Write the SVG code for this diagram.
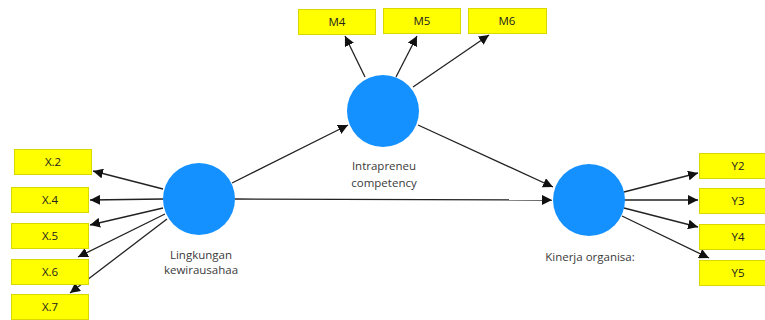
<svg xmlns="http://www.w3.org/2000/svg" width="765" height="320" viewBox="0 0 765 320">
<defs>
<marker id="ah" viewBox="0 0 10 10" refX="10" refY="5" markerWidth="10" markerHeight="10" markerUnits="userSpaceOnUse" orient="auto">
<path d="M0,0 L10,5 L0,10 z" fill="#111"/>
</marker>
<style>
.box{fill:#ffff00;stroke:#d8d800;stroke-width:1}
.lv{fill:#1591ff}
.bt{font-family:"Open Sans","DejaVu Sans",sans-serif;font-size:11.5px;fill:#222;text-anchor:middle}
.lt{font-family:"Open Sans","DejaVu Sans",sans-serif;font-size:11.5px;fill:#3a3a3a;text-anchor:middle}
.c{stroke:#222;stroke-width:1.3;fill:none;marker-end:url(#ah)}
</style>
</defs>
<rect width="765" height="320" fill="#fff"/>
<g id="connectors">
<line class="c" x1="163" y1="189" x2="93" y2="171"/>
<line class="c" x1="163" y1="199" x2="90" y2="200"/>
<line class="c" x1="163" y1="208" x2="90" y2="225"/>
<line class="c" x1="165" y1="214" x2="78" y2="257"/>
<line class="c" x1="167" y1="219" x2="70" y2="293"/>
<line class="c" x1="232" y1="183" x2="348" y2="125"/>
<line class="c" x1="235" y1="199" x2="552" y2="200"/>
<line class="c" x1="418" y1="125" x2="553" y2="187"/>
<line class="c" x1="365" y1="77" x2="345" y2="36"/>
<line class="c" x1="396" y1="77" x2="417" y2="36"/>
<line class="c" x1="413" y1="87" x2="489" y2="35"/>
<line class="c" x1="624" y1="192" x2="698" y2="173"/>
<line class="c" x1="624" y1="200" x2="698" y2="200"/>
<line class="c" x1="624" y1="208" x2="698" y2="227"/>
<line class="c" x1="622" y1="216" x2="709" y2="258"/>
</g>
<g id="lingkungan">
<circle class="lv" cx="199" cy="199" r="36"/>
<text class="lt" x="201" y="259">Lingkungan</text>
<text class="lt" x="201" y="274">kewirausahaa</text>
</g>
<g id="intrapreneu">
<circle class="lv" cx="383" cy="111" r="36"/>
<text class="lt" x="384" y="170">Intrapreneu</text>
<text class="lt" x="384" y="187">competency</text>
</g>
<g id="kinerja">
<circle class="lv" cx="589" cy="200" r="36"/>
<text class="lt" x="590" y="261">Kinerja organisa:</text>
</g>
<g id="X2"><rect class="box" x="14.5" y="149.5" width="77" height="25"/><text class="bt" x="53" y="166">X.2</text></g>
<g id="X4"><rect class="box" x="11.5" y="187.5" width="77" height="25"/><text class="bt" x="50" y="204">X.4</text></g>
<g id="X5"><rect class="box" x="11.5" y="223.5" width="77" height="25"/><text class="bt" x="50" y="240">X.5</text></g>
<g id="X6"><rect class="box" x="11.5" y="259.5" width="77" height="25"/><text class="bt" x="50" y="276">X.6</text></g>
<g id="X7"><rect class="box" x="11.5" y="294.5" width="77" height="25"/><text class="bt" x="50" y="311">X.7</text></g>
<g id="M4"><rect class="box" x="298.5" y="9.5" width="77" height="25"/><text class="bt" x="337" y="26">M4</text></g>
<g id="M5"><rect class="box" x="383.5" y="8.5" width="77" height="25"/><text class="bt" x="422" y="25">M5</text></g>
<g id="M6"><rect class="box" x="468.5" y="8.5" width="78" height="25"/><text class="bt" x="507" y="25">M6</text></g>
<g id="Y2"><rect class="box" x="699.5" y="153.5" width="78" height="25"/><text class="bt" x="738" y="170">Y2</text></g>
<g id="Y3"><rect class="box" x="699.5" y="188.5" width="78" height="25"/><text class="bt" x="738" y="205">Y3</text></g>
<g id="Y4"><rect class="box" x="699.5" y="224.5" width="78" height="25"/><text class="bt" x="738" y="241">Y4</text></g>
<g id="Y5"><rect class="box" x="699.5" y="260.5" width="78" height="25"/><text class="bt" x="738" y="277">Y5</text></g>
</svg>
